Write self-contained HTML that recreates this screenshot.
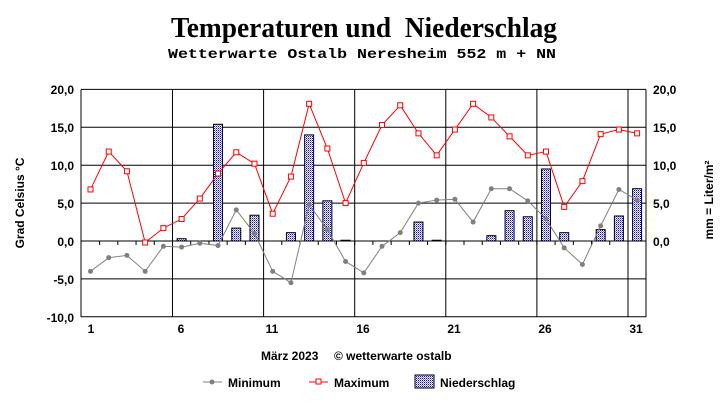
<!DOCTYPE html>
<html><head><meta charset="utf-8"><style>
html,body{margin:0;padding:0;background:#fff;}
svg{display:block;}
</style></head><body>
<svg id="s" width="727" height="404" xmlns="http://www.w3.org/2000/svg" font-family="Liberation Sans, sans-serif">
<defs>
<pattern id="dots" width="2" height="2" patternUnits="userSpaceOnUse">
<rect width="2" height="2" fill="#fff"/><rect width="1" height="1" fill="#0000ff"/><rect x="1" y="1" width="1" height="1" fill="#8080ff"/>
</pattern>
</defs>
<text x="171" y="37" textLength="386" lengthAdjust="spacingAndGlyphs" font-family="Liberation Serif, serif" font-weight="bold" font-size="28">Temperaturen und&#160; Niederschlag</text>
<text x="168" y="58" textLength="388" lengthAdjust="spacingAndGlyphs" font-family="Liberation Mono, monospace" font-weight="bold" font-size="14">Wetterwarte Ostalb Neresheim 552 m + NN</text>
<g id="grid"></g>
<g id="bars"></g>
<g id="lines"></g>
<g font-weight="bold" font-size="12" fill="#000">
<text x="74" y="94" text-anchor="end">20,0</text>
<text x="74" y="132" text-anchor="end">15,0</text>
<text x="74" y="170" text-anchor="end">10,0</text>
<text x="74" y="208" text-anchor="end">5,0</text>
<text x="74" y="246" text-anchor="end">0,0</text>
<text x="74" y="284" text-anchor="end">-5,0</text>
<text x="74" y="322" text-anchor="end">-10,0</text>
<text x="653" y="94">20,0</text>
<text x="653" y="132">15,0</text>
<text x="653" y="170">10,0</text>
<text x="653" y="208">5,0</text>
<text x="653" y="246">0,0</text>
<text x="91" y="333" text-anchor="middle">1</text>
<text x="181" y="333" text-anchor="middle">6</text>
<text x="272" y="333" text-anchor="middle">11</text>
<text x="363" y="333" text-anchor="middle">16</text>
<text x="454" y="333" text-anchor="middle">21</text>
<text x="545" y="333" text-anchor="middle">26</text>
<text x="636" y="333" text-anchor="middle">31</text>
<text transform="translate(24,203) rotate(-90)" text-anchor="middle">Grad Celsius °C</text>
<text transform="translate(713,200) rotate(-90)" text-anchor="middle">mm = Liter/m²</text>
<text x="261" y="360">März 2023</text>
<text x="334" y="360">© wetterwarte ostalb</text>
<text x="228" y="387">Minimum</text>
<text x="334" y="387">Maximum</text>
<text x="440" y="387">Niederschlag</text>
</g>
<line x1="203" y1="382" x2="222" y2="382" stroke="#808080"/>
<circle cx="212" cy="382" r="2.5" fill="#808080"/>
<line x1="309" y1="382" x2="328" y2="382" stroke="#f00"/>
<rect x="316" y="379" width="5" height="5" fill="#fff" stroke="#f00"/>
<rect x="415" y="375" width="19" height="13" fill="url(#dots)" stroke="#000"/>
</svg>
<script>
var NS="http://www.w3.org/2000/svg";
function el(p,t,a){var e=document.createElementNS(NS,t);for(var k in a)e.setAttribute(k,a[k]);document.getElementById(p).appendChild(e);return e;}
var X=function(d){return 90.5+(d-1)*18.22;};
var Y=function(v){return 241-v*7.58;};
var L=81,R=646,T=89.5,B=317;
[20,15,10,5,0,-5,-10].forEach(function(v){el("grid","line",{x1:L,x2:R,y1:Y(v),y2:Y(v),stroke:"#000","stroke-width":1});});
[5.5,10.5,15.5,20.5,25.5,30.5].forEach(function(d){el("grid","line",{x1:X(d),x2:X(d),y1:T,y2:B,stroke:"#000"});});
el("grid","line",{x1:L,x2:L,y1:T,y2:B,stroke:"#000"});
el("grid","line",{x1:R,x2:R,y1:T,y2:B,stroke:"#000"});
for(var d=1.5;d<31;d++){el("grid","line",{x1:X(d),x2:X(d),y1:Y(0),y2:Y(0)+4,stroke:"#000"});}
var mn=[-4,-2.2,-1.9,-4,-0.7,-0.8,-0.3,-0.6,4.1,1.0,-4.0,-5.5,4.8,1.5,-2.7,-4.2,-0.7,1.1,5.0,5.4,5.5,2.5,6.9,6.9,5.3,2.9,-0.9,-3.1,2.0,6.8,5.4];
var mx=[6.8,11.8,9.2,-0.2,1.7,2.9,5.6,8.9,11.7,10.2,3.6,8.5,18.1,12.2,5.0,10.3,15.3,17.9,14.2,11.3,14.7,18.1,16.3,13.8,11.3,11.8,4.5,7.9,14.1,14.7,14.2];
var pr={6:0.3,8:15.4,9:1.7,10:3.4,12:1.1,13:14.0,14:5.3,15:0.1,19:2.5,20:0.1,23:0.7,24:4.0,25:3.2,26:9.5,27:1.1,29:1.5,30:3.3,31:6.9};
for(var k in pr){var x=X(+k),h=pr[k]*7.58;el("bars","rect",{x:x-4.5,y:Y(0)-h,width:9,height:h,fill:"url(#dots)",stroke:"#000","stroke-width":1});}
var p1=mn.map(function(v,i){return X(i+1)+","+Y(v);}).join(" ");
el("lines","polyline",{points:p1,fill:"none",stroke:"#808080","stroke-width":1});
mn.forEach(function(v,i){el("lines","circle",{cx:X(i+1),cy:Y(v),r:2.5,fill:"#808080"});});
var p2=mx.map(function(v,i){return X(i+1)+","+Y(v);}).join(" ");
el("lines","polyline",{points:p2,fill:"none",stroke:"#f00","stroke-width":1});
mx.forEach(function(v,i){el("lines","rect",{x:X(i+1)-2.5,y:Y(v)-2.5,width:5,height:5,fill:"#fff",stroke:"#f00"});});
</script>
</body></html>
